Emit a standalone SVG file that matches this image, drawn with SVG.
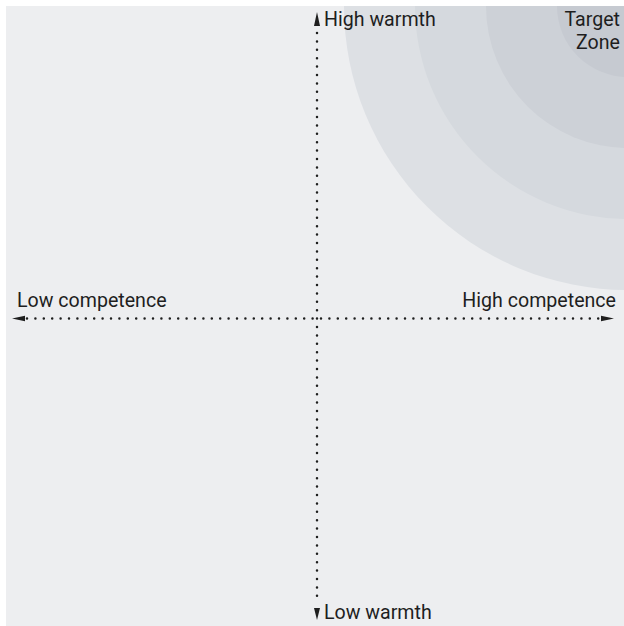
<svg xmlns="http://www.w3.org/2000/svg" width="624" height="626" viewBox="0 0 624 626">
<defs>
<style>
.lbl{font-family:Roboto,"Liberation Sans",sans-serif;font-size:19.6px;fill:#1e1e1e;}
.axis{stroke:#1e1e1e;stroke-width:2.5;stroke-linecap:round;stroke-dasharray:0 8.4;fill:none;}
.head{fill:#1e1e1e;}
</style>
<clipPath id="clip"><rect x="6" y="6" width="618" height="620"/></clipPath>
</defs>
<rect width="624" height="626" fill="#ffffff"/>
<g id="background">
<rect x="6" y="6" width="618" height="620" fill="#edeef0"/>
</g>
<g id="target-zone" clip-path="url(#clip)">
<circle cx="628" cy="6" r="284" fill="#dde0e4"/>
<circle cx="628" cy="6" r="213" fill="#d5d9de"/>
<circle cx="628" cy="6" r="142" fill="#cdd1d7"/>
<circle cx="628" cy="6" r="71" fill="#c6cad1"/>
<text class="lbl" x="620" y="26" text-anchor="end">Target</text>
<text class="lbl" x="620" y="49" text-anchor="end">Zone</text>
</g>
<g id="connectors">
<line class="axis" x1="317" y1="33" x2="317" y2="604"/>
<line class="axis" x1="27" y1="318.5" x2="603" y2="318.5"/>
<polygon class="head" points="317,12 320,26 314,26"/>
<polygon class="head" points="317,620 320,608 314,608"/>
<polygon class="head" points="12,318.5 25,315.7 25,321.3"/>
<polygon class="head" points="614,318.5 601,315.7 601,321.3"/>
</g>
<g id="high-warmth"><text class="lbl" x="324" y="26">High warmth</text></g>
<g id="low-warmth"><text class="lbl" x="324" y="619">Low warmth</text></g>
<g id="low-competence"><text class="lbl" x="17" y="307">Low competence</text></g>
<g id="high-competence"><text class="lbl" x="616" y="307" text-anchor="end">High competence</text></g>
</svg>
